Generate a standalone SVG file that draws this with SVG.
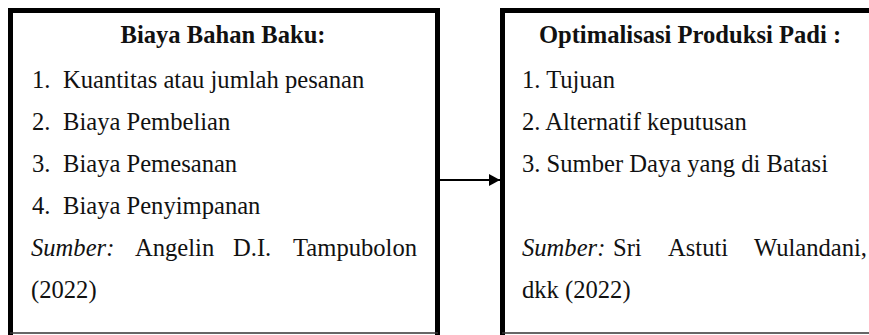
<svg xmlns="http://www.w3.org/2000/svg" width="869" height="335" viewBox="0 0 869 335">
  <style>
    .box { fill: #ffffff; stroke: #000000; stroke-width: 5; }
    .base { stroke: #333333; stroke-width: 1.5; fill: none; }
    .t { font-family: 'Liberation Serif', 'Times New Roman', serif; font-size: 24.6px; fill: #111111; }
    .title { font-weight: bold; text-anchor: middle; }
    .it { font-style: italic; }
    .end { text-anchor: end; }
    .conn { stroke: #000000; stroke-width: 2; fill: none; }
  </style>
  <defs>
    <marker id="arrow" viewBox="0 0 11 12" refX="11" refY="6" markerWidth="11" markerHeight="12" markerUnits="userSpaceOnUse" orient="auto">
      <polygon points="0,0 11,6 0,12" fill="#000000"/>
    </marker>
  </defs>
  <rect x="0" y="0" width="869" height="335" fill="#ffffff"/>

  <g id="connectors">
    <line class="conn" x1="440" y1="180" x2="500" y2="180" marker-end="url(#arrow)"/>
  </g>

  <g id="node-biaya" font-family="Liberation Serif, serif">
    <rect class="box" x="10.5" y="10.5" width="427" height="340"/>
    <line class="base" x1="10" y1="333" x2="438" y2="333"/>
    <text class="t title" x="223" y="43">Biaya Bahan Baku:</text>
    <text class="t" x="32" y="88">1.</text><text class="t" x="63" y="88">Kuantitas atau jumlah pesanan</text>
    <text class="t" x="32" y="130">2.</text><text class="t" x="63" y="130">Biaya Pembelian</text>
    <text class="t" x="32" y="172">3.</text><text class="t" x="63" y="172">Biaya Pemesanan</text>
    <text class="t" x="32" y="214">4.</text><text class="t" x="63" y="214">Biaya Penyimpanan</text>
    <text class="t it" x="31" y="256">Sumber:</text>
    <text class="t" x="135" y="256">Angelin</text>
    <text class="t" x="233" y="256">D.I.</text>
    <text class="t end" x="417" y="256">Tampubolon</text>
    <text class="t" x="31" y="298">(2022)</text>
  </g>

  <g id="node-optimalisasi" font-family="Liberation Serif, serif">
    <rect class="box" x="502.5" y="10.5" width="400" height="340"/>
    <line class="base" x1="502" y1="333" x2="869" y2="333"/>
    <text class="t title" x="690" y="43">Optimalisasi Produksi Padi :</text>
    <text class="t" x="522" y="88">1. Tujuan</text>
    <text class="t" x="522" y="130">2. Alternatif keputusan</text>
    <text class="t" x="522" y="172">3. Sumber Daya yang di Batasi</text>
    <text class="t it" x="522" y="256">Sumber:</text>
    <text class="t" x="613" y="256">Sri</text>
    <text class="t" x="668" y="256">Astuti</text>
    <text class="t end" x="867" y="256">Wulandani,</text>
    <text class="t" x="522" y="298">dkk (2022)</text>
  </g>
</svg>
